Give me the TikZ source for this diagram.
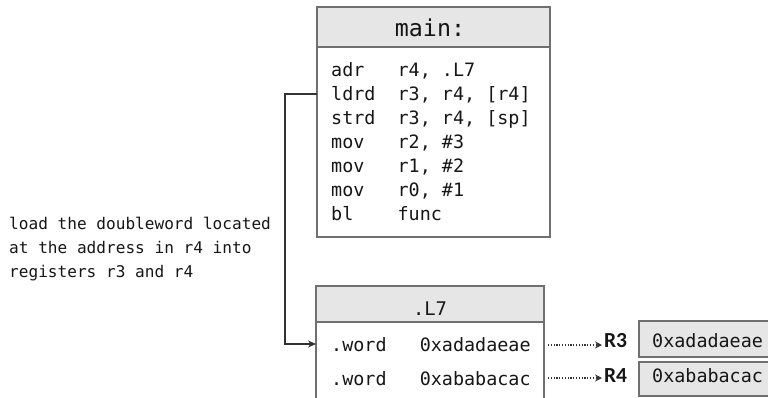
\documentclass[tikz,border=0pt]{standalone}
\usepackage{fontspec}
\setmonofont{DejaVu Sans Mono}
\newfontfamily\labfont{Carlito}
\usetikzlibrary{arrows.meta}
\definecolor{bordergray}{HTML}{707070}
\definecolor{headgray}{HTML}{E6E6E6}
\definecolor{txt}{HTML}{161616}
\definecolor{linegray}{HTML}{333333}
\tikzset{
  boxpart/.style={draw=bordergray, line width=1.3pt, inner sep=0pt, outer sep=0pt, minimum width=#1},
  headpart/.style={boxpart=#1, fill=headgray},
  codeline/.style={anchor=base west, inner sep=0pt, text=txt, font=\ttfamily\fontsize{18.4}{20}\selectfont},
  notetext/.style={anchor=base west, inner sep=0pt, text=txt, font=\ttfamily\fontsize{16.1}{18}\selectfont},
  reglabel/.style={anchor=base, inner sep=0pt, outer sep=2pt, text=txt},
  conn/.style={draw=linegray, line width=1.4pt, -{Stealth[length=8pt,width=7pt]}},
  dotconn/.style={draw=linegray, line width=1.1pt, dash pattern=on 1.2pt off 1.6pt, -{Stealth[length=7pt,width=7pt,inset=2.5pt]}}
}
\newcommand\reglab[1]{{\labfont\bfseries\fontsize{21.5}{24}\selectfont #1}}
\begin{document}
\begin{tikzpicture}[x=1pt,y=-1pt]
\useasboundingbox (0,0) rectangle (768,397);
\clip (0,0) rectangle (768,397);
% main box
\node[boxpart=233pt, minimum height=190pt] (mainbody) at (433.5,142) {};
\node[headpart=233pt, minimum height=40pt] (mainhead) at (433.5,27) {};
\node[anchor=base, inner sep=0pt, text=txt, font=\ttfamily\fontsize{23.3}{25}\selectfont] (maint) at (430,36.5) {main:};
\node[codeline] (c1) at (331,76) {adr\ \ \ r4, .L7};
\node[codeline] (c2) at (331,100) {ldrd\ \ r3, r4, [r4]};
\node[codeline] (c3) at (331,124) {strd\ \ r3, r4, [sp]};
\node[codeline] (c4) at (331,148) {mov\ \ \ r2, \#3};
\node[codeline] (c5) at (331,172) {mov\ \ \ r1, \#2};
\node[codeline] (c6) at (331,196) {mov\ \ \ r0, \#1};
\node[codeline] (c7) at (331,220) {bl\ \ \ \ func};
% annotation
\node[notetext] (n1) at (9,229) {load the doubleword located};
\node[notetext] (n2) at (9,253) {at the address in r4 into};
\node[notetext] (n3) at (9,277) {registers r3 and r4};
% L7 box
\node[boxpart=228pt, minimum height=100pt] (l7body) at (430,372) {};
\node[headpart=228pt, minimum height=36pt] (l7head) at (430,304) {};
\node[anchor=base, inner sep=0pt, text=txt, font=\ttfamily\fontsize{18.8}{20}\selectfont] (l7t) at (430,315) {.L7};
\node[codeline] (w1) at (331,351.5) {.word\ \ \ 0xadadaeae};
\node[codeline] (w2) at (331,385) {.word\ \ \ 0xababacac};
% registers
\node[reglabel] (r3) at (615.5,347) {\reglab{R3}};
\node[reglabel] (r4) at (615.5,382) {\reglab{R4}};
\node[headpart=151pt, minimum height=36pt, anchor=north west] (r3box) at (639,321) {};
\node[headpart=151pt, minimum height=34pt, anchor=north west] (r4box) at (639,362) {};
\node[codeline] (v3) at (652,347) {0xadadaeae};
\node[codeline] (v4) at (652,382) {0xababacac};
% connectors
\coordinate (srcpt) at (mainbody.west |- 0,94);
\coordinate (dstpt) at (l7body.west |- 0,344);
\draw[conn] (srcpt) -| (285,344) -- (dstpt);
\coordinate (d1s) at (548,345);
\coordinate (d2s) at (548,378);
\draw[dotconn] (d1s) -- (r3.west |- d1s);
\draw[dotconn] (d2s) -- (r4.west |- d2s);
\end{tikzpicture}
\end{document}
